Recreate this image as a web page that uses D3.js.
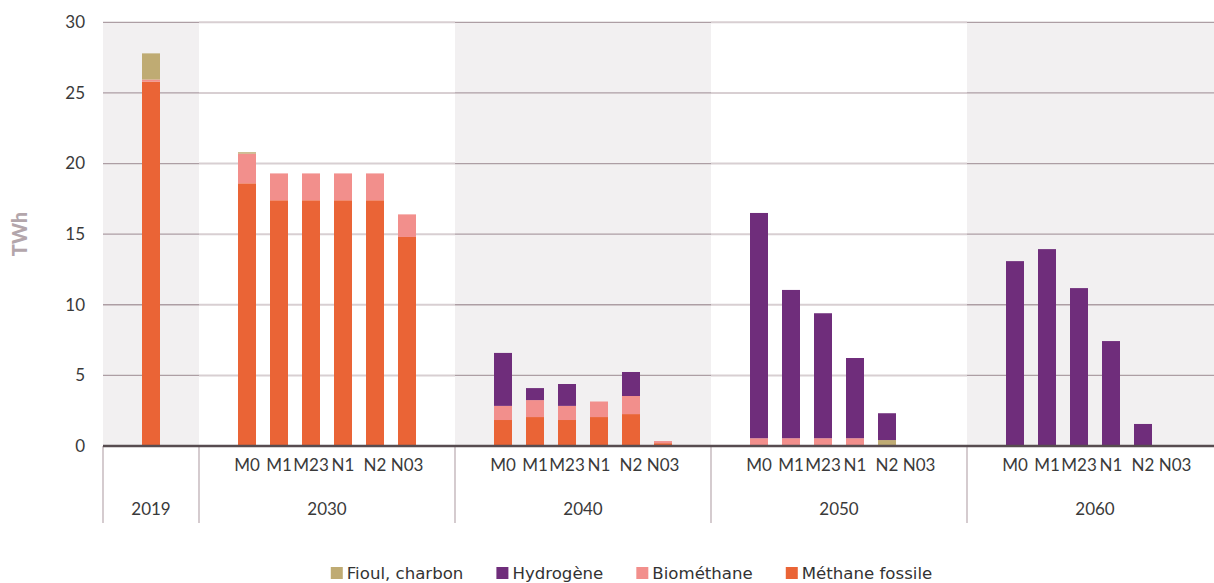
<!DOCTYPE html>
<html>
<head>
<meta charset="utf-8">
<script src="https://cdn.jsdelivr.net/npm/d3@7"></script>
<style>
  body { margin: 0; background: #fff; }
  svg { display: block; font-family: Lato, "Open Sans", sans-serif; }
</style>
</head>
<body>
<svg id="chart" width="1214" height="583"></svg>
<script>
// Years on the outer axis, scenarios within each future year
const years = ["2019", "2030", "2040", "2050", "2060"];
const scenarios = ["M0", "M1", "M23", "N1", "N2", "N03"];
const yTicks = [0, 5, 10, 15, 20, 25, 30];

// Series, in stacking order from the bottom up
const seriesNames = ["Méthane fossile", "Biométhane", "Fioul, charbon", "Hydrogène"];
const seriesColors = ["#ea6436", "#f28f8c", "#bfab73", "#6f2d7b"];
const legendOrder = ["Fioul, charbon", "Hydrogène", "Biométhane", "Méthane fossile"];

// Values in TWh: 2019, then 2030, 2040, 2050, 2060 × (M0, M1, M23, N1, N2, N03)
const methaneFossile = [25.8,
  18.6, 17.4, 17.4, 17.4, 17.4, 14.8,
  1.84, 2.05, 1.84, 2.05, 2.26, 0.2,
  0, 0, 0, 0, 0, 0,
  0, 0, 0, 0, 0, 0];
const biomethane = [0.15,
  2.1, 1.9, 1.9, 1.9, 1.9, 1.6,
  1.0, 1.2, 1.0, 1.1, 1.28, 0.15,
  0.55, 0.55, 0.55, 0.55, 0, 0,
  0, 0, 0, 0, 0, 0];
const fioulCharbon = [1.85,
  0.1, 0, 0, 0, 0, 0,
  0, 0, 0, 0, 0, 0,
  0, 0, 0, 0, 0.42, 0,
  0, 0, 0, 0, 0, 0];
const hydrogene = [0,
  0, 0, 0, 0, 0, 0,
  3.75, 0.85, 1.55, 0, 1.7, 0,
  15.95, 10.5, 8.85, 5.68, 1.9, 0,
  13.09, 13.94, 11.18, 7.43, 1.56, 0];

const svg = d3.select("#chart");

// Categories and their slots (each year has an empty slot on each side)
const categories = [];
const slots = [];
years.forEach(yr => {
  const subs = yr === "2019" ? [""] : scenarios;
  slots.push(yr + "|<");
  subs.forEach(s => { categories.push({ year: yr, scen: s, key: yr + "|" + s }); slots.push(yr + "|" + s); });
  slots.push(yr + "|>");
});

const rows = categories.map((c, i) => ({
  key: c.key,
  "Méthane fossile": methaneFossile[i],
  "Biométhane": biomethane[i],
  "Fioul, charbon": fioulCharbon[i],
  "Hydrogène": hydrogene[i]
}));

const plotLeft = 103, slotW = 32;
const x = d3.scaleBand().domain(slots).range([plotLeft, plotLeft + slots.length * slotW]);
const y = d3.scaleLinear().domain([0, 30]).range([446, 22.3]);
const barW = x.bandwidth() * 18 / 32;
const color = d3.scaleOrdinal().domain(seriesNames).range(seriesColors);

// Year bands: alternating shading
const bands = years.map((yr, i) => {
  const s = slots.filter(k => k.startsWith(yr + "|"));
  return { year: yr, x0: x(s[0]), x1: x(s[s.length - 1]) + x.bandwidth(), shaded: i % 2 === 0 };
});

svg.append("g").selectAll("rect").data(bands).join("rect")
  .attr("x", d => d.x0).attr("width", d => d.x1 - d.x0)
  .attr("y", y(30)).attr("height", y(0) - y(30))
  .attr("fill", d => d.shaded ? "#f2f0f1" : "#ffffff");

// Gridlines, drawn band by band
const grid = svg.append("g");
bands.forEach(b => {
  grid.selectAll(null).data(yTicks.filter(t => t > 0)).join("line")
    .attr("x1", b.x0).attr("x2", b.x1)
    .attr("y1", d => y(d)).attr("y2", d => y(d))
    .attr("stroke", b.shaded ? "#ad9ea4" : "#d8cfd2")
    .attr("stroke-width", b.shaded ? 1.3 : 2);
});

// Stacked bars
const stack = d3.stack().keys(seriesNames)(rows);
svg.append("g").selectAll("g").data(stack).join("g")
  .attr("fill", d => color(d.key))
  .selectAll("rect").data(d => d).join("rect")
  .attr("x", d => x(d.data.key) + (x.bandwidth() - barW) / 2)
  .attr("width", barW)
  .attr("y", d => y(d[1]))
  .attr("height", d => Math.max(0, y(d[0]) - y(d[1])));

// Year separators below the baseline
svg.append("g").selectAll("line").data(bands.map(b => b.x0)).join("line")
  .attr("x1", d => d).attr("x2", d => d)
  .attr("y1", y(0)).attr("y2", 523)
  .attr("stroke", "#b9a9af").attr("stroke-width", 1.2);

// Baseline
svg.append("line")
  .attr("x1", plotLeft).attr("x2", 1214)
  .attr("y1", y(0)).attr("y2", y(0))
  .attr("stroke", "#574c50").attr("stroke-width", 2.5);

// Y axis
const yAxis = svg.append("g")
  .attr("transform", "translate(85,0)")
  .call(d3.axisLeft(y).tickValues(yTicks).tickSize(0).tickPadding(0));
yAxis.select(".domain").remove();
yAxis.selectAll("text").attr("font-size", 17).attr("fill", "#3a3a3a")
  .style("font-family", "Lato, 'Open Sans', sans-serif");

svg.append("text")
  .attr("transform", "translate(27,234) rotate(-90)")
  .attr("text-anchor", "middle")
  .attr("font-size", 20).attr("font-weight", 900)
  .attr("fill", "#b3a6ab")
  .text("TWh");

// Scenario labels
const xAxis = svg.append("g")
  .attr("transform", `translate(0,${y(0)})`)
  .call(d3.axisBottom(x)
    .tickValues(categories.filter(c => c.scen).map(c => c.key))
    .tickFormat(k => k.split("|")[1])
    .tickSize(0).tickPadding(13));
xAxis.select(".domain").remove();
xAxis.selectAll("text").attr("font-size", 17).attr("fill", "#3a3a3a")
  .style("font-family", "Lato, 'Open Sans', sans-serif");

// Year labels
svg.append("g").selectAll("text").data(bands).join("text")
  .attr("x", d => (d.x0 + d.x1) / 2)
  .attr("y", 515)
  .attr("text-anchor", "middle")
  .attr("font-size", 17).attr("fill", "#3a3a3a")
  .text(d => d.year);

// Legend
const legend = svg.append("g").attr("font-family", "'DejaVu Sans', sans-serif");
const items = legend.selectAll("g").data(legendOrder).join("g");
items.append("rect").attr("width", 12).attr("height", 12).attr("y", -6)
  .attr("fill", d => color(d));
items.append("text").attr("x", 16).attr("dy", "0.35em")
  .attr("font-size", 16.6).attr("fill", "#333").text(d => d);
let cx = 0;
const widths = [];
items.each(function () { widths.push(this.getBBox().width); });
const gap = 33;
const total = d3.sum(widths) + gap * (widths.length - 1);
cx = 631.5 - total / 2;
items.attr("transform", (d, i) => {
  const t = `translate(${cx},573)`;
  cx += widths[i] + gap;
  return t;
});
</script>
</body>
</html>
